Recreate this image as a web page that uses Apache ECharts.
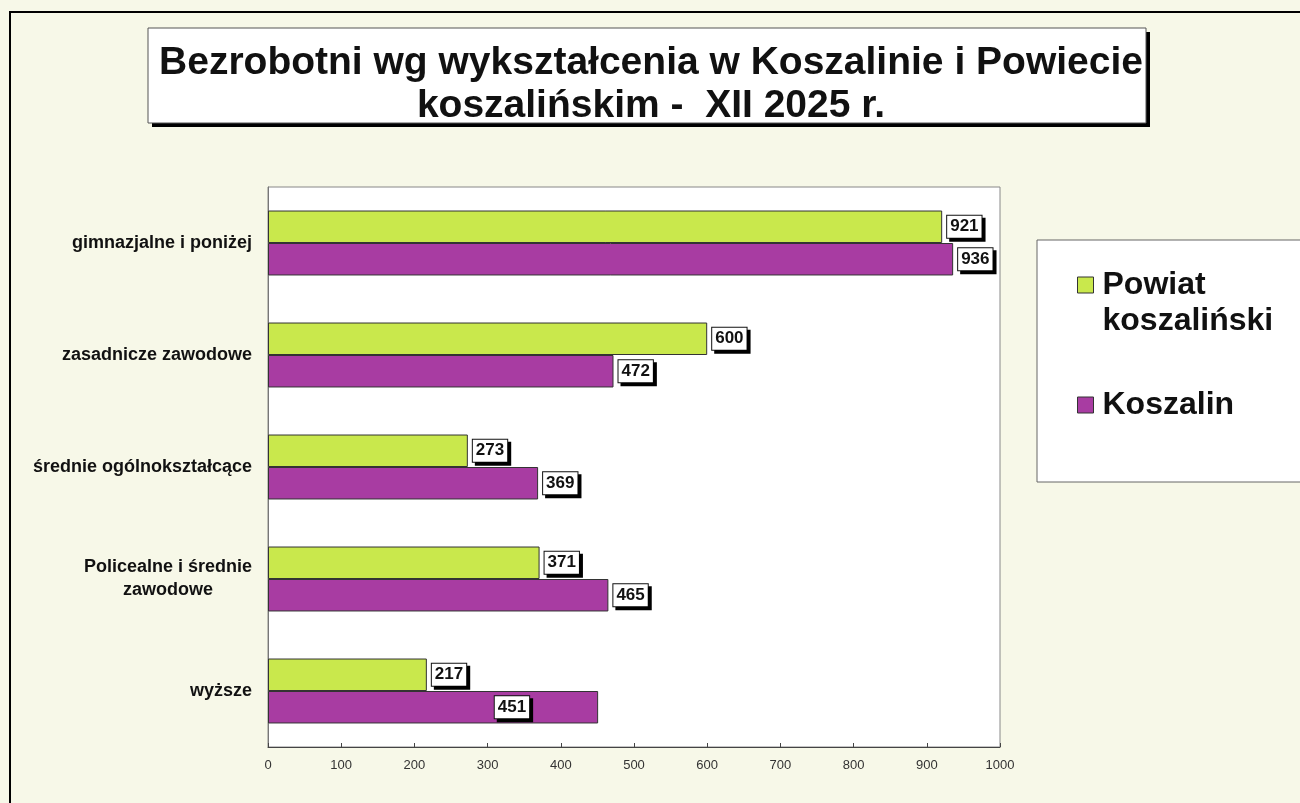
<!DOCTYPE html>
<html>
<head>
<meta charset="utf-8">
<script src="https://cdn.jsdelivr.net/npm/echarts@6/dist/echarts.min.js"></script>
<style>
  html, body { margin: 0; padding: 0; background: #f7f8e8; }
  #main { width: 1300px; height: 803px; }
</style>
</head>
<body>
<div id="main"></div>
<script>
// dane z wykresu
var categories = ['gimnazjalne i poniżej', 'zasadnicze zawodowe', 'średnie ogólnokształcące', 'Policealne i średnie\nzawodowe', 'wyższe'];
var powiatValues = [921, 600, 273, 371, 217];
var koszalinValues = [936, 472, 369, 465, 451];
var seriesNames = ['Powiat koszaliński', 'Koszalin'];
var xTicks = { min: 0, max: 1000, interval: 100 };

var fontFam = '"Liberation Sans", Arial, sans-serif';

var labelBox = {
  show: true,
  position: 'right',
  distance: 5,
  fontFamily: fontFam,
  fontWeight: 'bold',
  fontSize: 17,
  color: '#111',
  backgroundColor: '#fff',
  borderColor: '#111',
  borderWidth: 1,
  padding: [3, 3, 2, 3],
  shadowColor: '#000',
  shadowOffsetX: 3,
  shadowOffsetY: 3,
  shadowBlur: 0
};

// etykieta 451 siedzi w slupku w oryginale
var koszalinData = koszalinValues.map(function (v, i) {
  if (i == 4) {
    return { value: v, label: { position: 'insideRight', offset: [-64, 0] } };
  }
  return v;
});

var chart = echarts.init(document.getElementById('main'));
var option = {
  backgroundColor: '#f7f8e8',
  animation: false,
  graphic: [
    { type: 'rect', z: -10, shape: { x: 10, y: 12, width: 1300, height: 800 },
      style: { fill: 'transparent', stroke: '#000', lineWidth: 2 } },
    // cien ramki tytulu
    { type: 'rect', z: -6, shape: { x: 152, y: 32, width: 998, height: 95 },
      style: { fill: '#000' } },
    { type: 'rect', z: -5, shape: { x: 148, y: 28, width: 998, height: 95 },
      style: { fill: '#fff', stroke: '#555', lineWidth: 1 } },
    { type: 'rect', z: -5, shape: { x: 1037, y: 240, width: 300, height: 242 },
      style: { fill: '#fff', stroke: '#666', lineWidth: 1 } }
  ],
  title: {
    text: 'Bezrobotni wg wykształcenia w Koszalinie i Powiecie\nkoszalińskim -  XII 2025 r.',
    left: 646,
    top: 37,
    textAlign: 'center',
    textStyle: { fontFamily: fontFam, fontWeight: 'bold', fontSize: 39, lineHeight: 43, color: '#111' }
  },
  legend: {
    orient: 'vertical',
    left: 1077,
    top: 231,
    padding: 0,
    itemGap: 48,
    itemWidth: 16,
    itemHeight: 16,
    icon: 'rect',
    selectedMode: false,
    itemStyle: { borderColor: '#333', borderWidth: 1 },
    textStyle: { fontFamily: fontFam, fontWeight: 'bold', fontSize: 32, lineHeight: 36, color: '#111', padding: [0, 0, 0, 4] },
    formatter: function (name) {
      // pusta linia, zeby ikona stala przy pierwszym wierszu
      return name == 'Powiat koszaliński' ? ' \nPowiat\nkoszaliński' : name;
    },
    data: seriesNames
  },
  grid: {
    left: 268, top: 187, width: 732, height: 560,
    show: true, backgroundColor: '#fff', borderColor: '#888', borderWidth: 1,
    containLabel: false
  },
  xAxis: {
    type: 'value',
    min: xTicks.min,
    max: xTicks.max,
    interval: xTicks.interval,
    splitLine: { show: false },
    axisLine: { show: true, lineStyle: { color: '#444', width: 1 } },
    axisTick: { show: true, inside: true, length: 4, lineStyle: { color: '#444' } },
    axisLabel: {
      margin: 12, fontFamily: fontFam, fontSize: 13, color: '#333',
      formatter: function (v) { return String(v); }
    }
  },
  yAxis: {
    type: 'category',
    inverse: true,
    data: categories,
    axisLine: { show: true, lineStyle: { color: '#777' } },
    axisTick: { show: false },
    axisLabel: {
      margin: 16,
      fontFamily: fontFam,
      fontWeight: 'bold',
      fontSize: 18,
      lineHeight: 23,
      color: '#111',
      formatter: function (val) {
        return val.split('\n').map(function (s) { return '{c|' + s + '}'; }).join('\n');
      },
      rich: { c: { align: 'center', fontFamily: fontFam, fontWeight: 'bold', fontSize: 18, lineHeight: 23, color: '#111' } }
    }
  },
  series: [
    {
      name: seriesNames[0],
      type: 'bar',
      data: powiatValues,
      barGap: '0%',
      barCategoryGap: '42%',
      itemStyle: { color: '#c9e84c', borderColor: '#333', borderWidth: 1 },
      label: labelBox
    },
    {
      name: seriesNames[1],
      type: 'bar',
      data: koszalinData,
      barGap: '0%',
      barCategoryGap: '42%',
      itemStyle: { color: '#a83ca2', borderColor: '#333', borderWidth: 1 },
      label: labelBox
    }
  ]
};
chart.setOption(option);
</script>
</body>
</html>
